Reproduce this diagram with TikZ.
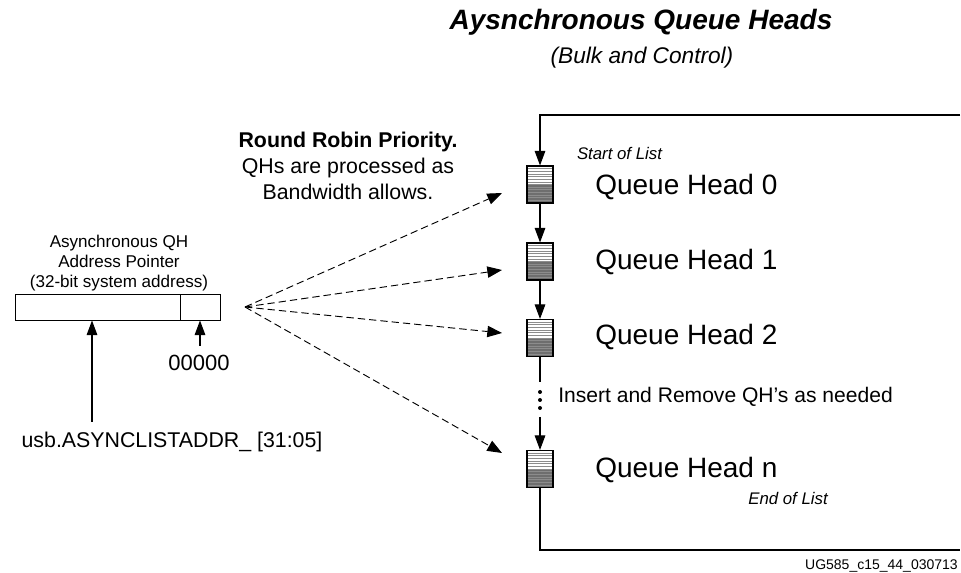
\documentclass[tikz,border=0pt]{standalone}
\usepackage{fontspec}
\setmainfont{Liberation Sans}
\usetikzlibrary{arrows.meta,calc}
\definecolor{qhdark}{HTML}{6E6E6E}
\definecolor{qhline}{HTML}{8C8C8C}
\tikzset{qh/.style={draw,line width=0.8pt,minimum width=19.5pt,minimum height=27.75pt,inner sep=0pt,
  path picture={\fill[qhdark] (path picture bounding box.west) rectangle (path picture bounding box.south east);
  \foreach \k in {1,...,13} \draw[qhline,line width=0.5pt] ($(path picture bounding box.north west)!\k/14!(path picture bounding box.south west)$)--($(path picture bounding box.north east)!\k/14!(path picture bounding box.south east)$);}},
  arr/.style={-{Triangle[length=11pt,width=8pt]},line width=0.8pt},
  farr/.style={-{Triangle[length=11pt,width=8.5pt]},line width=0.7pt,dash pattern=on 5.5pt off 3pt},
  qhtext/.style={anchor=west,inner sep=0pt,font=\fontsize{21}{25}\selectfont},
  small/.style={inner sep=0pt,font=\itshape\fontsize{12.6}{15}\selectfont},
  ptr/.style={draw,line width=0.7pt,minimum height=19.5pt,inner sep=0pt}}
\begin{document}
\begin{tikzpicture}[x=0.75pt,y=-0.75pt]
\useasboundingbox (0,0) rectangle (961,573);
% headings
\node[inner sep=0pt,font=\bfseries\itshape\fontsize{21}{25}\selectfont] (title) at (641,22) {Aysnchronous Queue Heads};
\node[inner sep=0pt,font=\itshape\fontsize{17}{20}\selectfont] (sub) at (642,58) {(Bulk and Control)};
\node[inner sep=0pt,align=center,font=\fontsize{16}{19.5}\selectfont] (rr) at (348,166) {\textbf{Round Robin Priority.}\\QHs are processed as\\Bandwidth allows.};
% pointer register
\node[inner sep=0pt,align=center,font=\fontsize{12.8}{15}\selectfont] (ptrlab) at (119,263) {Asynchronous QH\\Address Pointer\\(32-bit system address)};
\node[ptr,minimum width=123.75pt] (ptrhi) at (97.5,307) {};
\node[ptr,minimum width=30pt] (ptrlo) at (200,307) {};
\node[inner sep=0pt,font=\fontsize{16.5}{20}\selectfont] (zeros) at (199,363) {00000};
\node[inner sep=0pt,font=\fontsize{16}{19}\selectfont] (usb) at (172,442) {usb.ASYNCLISTADDR\_ [31:05]};
\coordinate (a1) at (92,422);
\coordinate (a2) at (200,346);
\draw[arr] (a1)--(a1 |- ptrhi.south);
\draw[arr] (a2)--(ptrlo.south);
% queue heads
\node[qh] (qh0) at (540,184.5) {};
\node[qh] (qh1) at (540,261.5) {};
\node[qh] (qh2) at (540,338) {};
\node[qh] (qhn) at (540,469) {};
\node[qhtext] (t0) at (595,187) {Queue Head 0};
\node[qhtext] (t1) at (595,262) {Queue Head 1};
\node[qhtext] (t2) at (595,337) {Queue Head 2};
\node[qhtext] (tn) at (595,470) {Queue Head n};
\node[small] (start) at (619.5,153) {Start of List};
\node[small] (end) at (788,499) {End of List};
\node[anchor=west,inner sep=0pt,font=\fontsize{15.8}{19}\selectfont] (ins) at (558,397) {Insert and Remove QH’s as needed};
\coordinate (tl) at (960,115);
\coordinate (bl) at (960,550);
\draw[arr] (tl)--(540,115)--(qh0.north);
\draw[arr] (qh0)--(qh1);
\draw[arr] (qh1)--(qh2);
\coordinate (d1) at (540,382);
\coordinate (d2) at (540,417);
\draw[line width=0.8pt] (qh2.south)--(d1);
\foreach \y in {392,400,408} \fill (540,\y) circle (1.5pt);
\draw[arr] (d2)--(qhn.north);
\draw[line width=0.8pt] (qhn.south) |- (bl);
% fan of pointers
\coordinate (fan) at (245,307);
\coordinate (p0) at (502,193);
\coordinate (p1) at (502,270);
\coordinate (p2) at (502,333);
\coordinate (pn) at (502,453);
\foreach \p in {p0,p1,p2,pn} \draw[farr] (fan)--(\p);
\node[anchor=east,inner sep=0pt,font=\fontsize{10.5}{12}\selectfont] (fig) at (958,566) {UG585\_c15\_44\_030713};
\end{tikzpicture}
\end{document}
